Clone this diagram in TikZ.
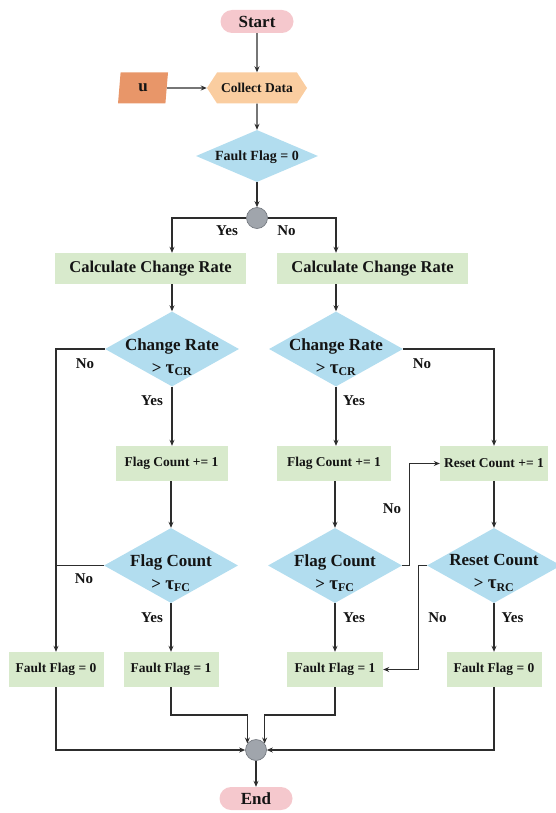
\documentclass[tikz,border=0pt]{standalone}
\usepackage{fontspec}
\setmainfont{Liberation Serif}
\usetikzlibrary{shapes.geometric,shapes.symbols,arrows.meta,calc}

\definecolor{pinkc}{RGB}{245,200,205}
\definecolor{hexc}{RGB}{250,205,160}
\definecolor{inc}{RGB}{232,150,105}
\definecolor{bluec}{RGB}{178,221,239}
\definecolor{greenc}{RGB}{216,234,204}
\definecolor{circc}{RGB}{160,165,172}
\definecolor{circd}{RGB}{110,115,122}
\definecolor{linec}{RGB}{45,45,45}
\definecolor{txtc}{RGB}{20,20,20}

\newcommand{\fs}[1]{\fontsize{#1}{#1}\selectfont\bfseries}
\newcommand{\thr}[1]{> {\fontsize{19}{19}\selectfont τ}\textsubscript{#1}}

\begin{document}
\begin{tikzpicture}[x=1pt,y=-1pt,
  every node/.style={text=txtc},
  conn/.style={draw=linec, line width=1.1pt},
  arr/.style={conn, -{Stealth[length=6pt,width=5pt]}},
  term/.style={rectangle, rounded corners=11.5pt, fill=pinkc, minimum width=73pt, minimum height=23pt, inner sep=0pt, font=\fs{17}},
  procbox/.style={rectangle, fill=greenc, inner sep=0pt, minimum height=35pt, font=\fs{13.5}},
  calcbox/.style={rectangle, fill=greenc, inner sep=0pt, minimum width=191pt, minimum height=31pt, font=\fs{16.5}},
  decision/.style={diamond, fill=bluec, inner sep=0pt, minimum width=134pt, minimum height=75pt},
  dtext/.style={align=center, font=\fs{17}, inner sep=0pt},
  junction/.style={circle, fill=circc, draw=circd, line width=0.6pt, minimum size=21pt, inner sep=0pt},
  lab/.style={font=\fs{15}, inner sep=0pt}
]
\useasboundingbox (0,0) rectangle (555,813);

% terminals and input
\node[term] (start) at (257,21.5) {Start};
\node[signal, signal to=east and west, signal pointer angle=114, fill=hexc,
      minimum width=100pt, minimum height=31pt, inner sep=0pt, font=\fs{13.5}] (collect) at (257,88) {Collect Data};
\node[trapezium, trapezium left angle=72, trapezium right angle=108, trapezium stretches body,
      fill=inc, minimum width=50pt, minimum height=31pt, inner sep=0pt, font=\fs{17}] (u) at (143,88) {u};
\node[diamond, fill=bluec, inner sep=0pt, minimum width=122pt, minimum height=52pt] (ff0) at (257,156) {};
\node[dtext, font=\fs{14}] (ff0t) at (257,157) {Fault Flag = 0};
\node[junction] (c1) at (257,218) {};

% change-rate stage
\node[calcbox] (calcL) at (150.5,268.5) {Calculate Change Rate};
\node[calcbox] (calcR) at (372.5,268.5) {Calculate Change Rate};
\node[decision] (dL) at (172,349) {};
\node[dtext] (dLt) at (172,357) {Change Rate\\[6pt]\thr{CR}};
\node[decision] (dR) at (336,349) {};
\node[dtext] (dRt) at (336,357) {Change Rate\\[6pt]\thr{CR}};

% counters
\node[procbox, minimum width=112pt] (fcL) at (171.5,463.5) {Flag Count += 1};
\node[procbox, minimum width=114pt] (fcR) at (334,463.5) {Flag Count += 1};
\node[procbox, minimum width=108pt] (rc) at (494,463.5) {Reset Count += 1};

% threshold checks
\node[decision] (dfL) at (171,565.5) {};
\node[dtext] (dfLt) at (171,573) {Flag Count\\[6pt]\thr{FC}};
\node[decision] (dfR) at (335,565.5) {};
\node[dtext] (dfRt) at (335,573) {Flag Count\\[6pt]\thr{FC}};
\node[decision] (drc) at (494,565.5) {};
\node[dtext] (drct) at (494,573) {Reset Count\\[6pt]\thr{RC}};

% outcomes
\node[procbox, minimum width=95pt] (ffL0) at (56,669.5) {Fault Flag = 0};
\node[procbox, minimum width=95pt] (ffL1) at (171,669.5) {Fault Flag = 1};
\node[procbox, minimum width=96pt] (ffR1) at (335,669.5) {Fault Flag = 1};
\node[procbox, minimum width=95pt] (ffR0) at (494,669.5) {Fault Flag = 0};
\node[junction] (c2) at (256,750) {};
\node[term] (end) at (256,798.5) {End};

\coordinate (busy) at (0,715);

% main flow
\draw[arr] (start) -- (collect);
\draw[arr] (u) -- (collect);
\draw[arr] (collect) -- (ff0);
\draw[arr] (ff0) -- (c1);
\draw[arr] (c1.west) -| (dL.north |- calcL.north);
\draw[arr] (c1.east) -| (dR.north |- calcR.north);
\node[lab] (yes0) at (227,231) {Yes};
\node[lab] (no0) at (286.5,231) {No};

\draw[arr] (calcL.south -| dL.north) -- (dL.north);
\draw[arr] (calcR.south -| dR.north) -- (dR.north);

% left branch
\draw[arr] (dL.south) -- (dL.south |- fcL.north);
\node[lab] (yes1) at (152,401) {Yes};
\draw[arr] (dL.west) -| (ffL0.north);
\node[lab] (no1) at (85,364) {No};
\draw[arr] (fcL.south -| dfL.north) -- (dfL.north);
\draw[conn] (dfL.west) -- (dfL.west -| ffL0.north);
\node[lab] (no2) at (84,579) {No};
\draw[arr] (dfL.south) -- (ffL1.north);
\node[lab] (yes2) at (152,618) {Yes};

% right branch
\draw[arr] (dR.south) -- (dR.south |- fcR.north);
\node[lab] (yes3) at (354,401) {Yes};
\draw[arr] (dR.east) -| (rc.north);
\node[lab] (no3) at (422,364) {No};
\draw[arr] (fcR.south -| dfR.north) -- (dfR.north);
\draw[arr] (dfR.east) -- ++(7,0) |- (rc.west);
\node[lab] (no4) at (392,509) {No};
\draw[arr] (dfR.south) -- (ffR1.north);
\node[lab] (yes4) at (354,618) {Yes};
\draw[arr] (rc.south) -- (drc.north);
\draw[arr] (drc.west) -- ++(-8,0) |- (ffR1.east);
\node[lab] (no5) at (437.5,618) {No};
\draw[arr] (drc.south) -- (ffR0.north);
\node[lab] (yes5) at (512.5,618) {Yes};

% merge to end
\draw[arr] (ffL0.south) |- (c2.west);
\draw[arr] (ffL1.south) |- (c2.143 |- busy) -- (c2.143);
\draw[arr] (ffR1.south) |- (c2.37 |- busy) -- (c2.37);
\draw[arr] (ffR0.south) |- (c2.east);
\draw[arr] (c2) -- (end);
\end{tikzpicture}
\end{document}
